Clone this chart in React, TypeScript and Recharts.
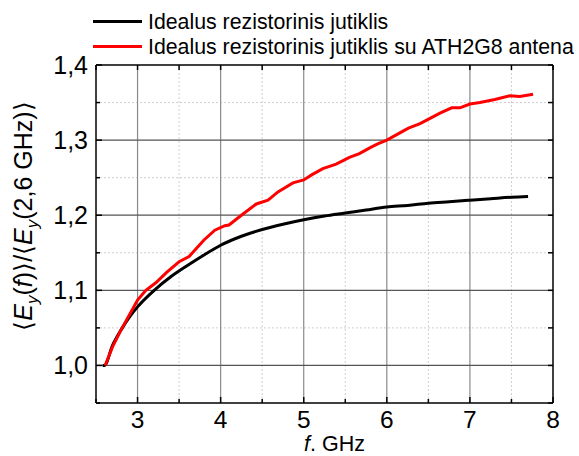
import React from 'react';
import { LineChart, Line, XAxis, YAxis, ReferenceLine, Label } from 'recharts';

const idealF = [2.58, 2.6, 2.7, 2.8, 2.9, 3.0, 3.2, 3.4, 3.6, 3.8, 4.0, 4.25, 4.5, 4.75, 5.0, 5.25, 5.5, 5.75, 6.0, 6.25, 6.5, 6.75, 7.0, 7.25, 7.5, 7.7];
const idealE = [1.0, 1.0, 1.027, 1.047, 1.064, 1.078, 1.1, 1.118, 1.133, 1.147, 1.16, 1.172, 1.181, 1.188, 1.194, 1.199, 1.203, 1.207, 1.211, 1.213, 1.216, 1.218, 1.22, 1.222, 1.224, 1.225];

const antF = [2.61, 2.7, 2.8, 3.0, 3.1, 3.22, 3.35, 3.5, 3.62, 3.8, 3.93, 4.05, 4.1, 4.25, 4.43, 4.57, 4.69, 4.87, 5.0, 5.1, 5.23, 5.39, 5.55, 5.67, 5.8, 5.89, 6.0, 6.13, 6.26, 6.4, 6.52, 6.64, 6.78, 6.88, 7.0, 7.12, 7.3, 7.48, 7.6, 7.76];
const antE = [1.0, 1.025, 1.047, 1.087, 1.1, 1.11, 1.124, 1.138, 1.145, 1.167, 1.18, 1.186, 1.187, 1.2, 1.215, 1.22, 1.231, 1.243, 1.247, 1.254, 1.262, 1.268, 1.277, 1.282, 1.29, 1.295, 1.3, 1.308, 1.316, 1.322, 1.329, 1.336, 1.343, 1.343, 1.348, 1.35, 1.354, 1.359, 1.358, 1.361];

const seriesNames = ['Idealus rezistorinis jutiklis', 'Idealus rezistorinis jutiklis su ATH2G8 antena'];
const seriesColors = ['#000000', '#ff0000'];

const xTicks = [2.5, 3, 3.5, 4, 4.5, 5, 5.5, 6, 6.5, 7, 7.5, 8];
const xMajor = [3, 4, 5, 6, 7];
const xMinor = [3.5, 4.5, 5.5, 6.5, 7.5];
const yTicks = [0.95, 1.0, 1.05, 1.1, 1.15, 1.2, 1.25, 1.3, 1.35, 1.4];
const yMajor = [1.0, 1.1, 1.2, 1.3];
const yMinor = [1.05, 1.15, 1.25, 1.35];

const idealData = idealF.map((f, i) => ({ f, e: idealE[i] }));
const antData = antF.map((f, i) => ({ f, e: antE[i] }));

const W = 579;
const H = 456;
const X_H = 30;
const M = { top: 65, right: 26, bottom: 53 - X_H, left: 0 };
const Y_W = 96;
const PLOT_H = H - M.top - M.bottom - X_H;
const PLOT_W = W - Y_W - M.right;
const FONT = '"Liberation Sans", Arial, sans-serif';

const isMajor = (v: number) => Math.abs(v * 10 - Math.round(v * 10)) < 1e-6;

function XTick(props: any) {
  const { x, y, payload } = props;
  const v = payload.value as number;
  const whole = Math.abs(v - Math.round(v)) < 1e-6;
  return (
    <g>
      <line x1={x} x2={x} y1={y} y2={y - (whole ? 6 : 4)} stroke="#000" strokeWidth={1.5} />
      <line x1={x} x2={x} y1={y - PLOT_H} y2={y - PLOT_H + 5} stroke="#000" strokeWidth={1.5} />
      {whole && v > 2.5 && (
        <text x={x} y={y + 24.5} textAnchor="middle" fontSize={24.5} fontFamily={FONT} fill="#000">
          {v}
        </text>
      )}
    </g>
  );
}

function YTick(props: any) {
  const { x, y, payload } = props;
  const v = payload.value as number;
  const major = isMajor(v);
  return (
    <g>
      <line x1={x} x2={x + (major ? 6 : 4)} y1={y} y2={y} stroke="#000" strokeWidth={1.5} />
      <line x1={x + PLOT_W} x2={x + PLOT_W - 5} y1={y} y2={y} stroke="#000" strokeWidth={1.5} />
      {major && (
        <text x={x - 8} y={y + 9} textAnchor="end" fontSize={25} fontFamily={FONT} fill="#000">
          {v.toFixed(1).replace('.', ',')}
        </text>
      )}
    </g>
  );
}

function YTitle(props: any) {
  const { viewBox } = props;
  const cx = 32;
  const cy = viewBox.y + viewBox.height / 2 - 18;
  return (
    <text
      x={cx}
      y={cy}
      transform={`rotate(-90 ${cx} ${cy})`}
      textAnchor="middle"
      fontSize={25}
      fontFamily={FONT}
      fill="#000"
    >
      <tspan>⟨</tspan>
      <tspan fontStyle="italic">E</tspan>
      <tspan fontSize={17} fontStyle="italic" dy={6}>y</tspan>
      <tspan dy={-6}>(</tspan>
      <tspan fontStyle="italic">f</tspan>
      <tspan>)⟩/⟨</tspan>
      <tspan fontStyle="italic">E</tspan>
      <tspan fontSize={17} fontStyle="italic" dy={6}>y</tspan>
      <tspan dy={-6}>(2,6 GHz)⟩</tspan>
    </text>
  );
}

function XTitle(props: any) {
  const { viewBox } = props;
  const cx = viewBox.x + viewBox.width / 2 + 10;
  return (
    <text x={cx} y={451} textAnchor="middle" fontSize={21.5} fontFamily={FONT} fill="#000">
      <tspan fontStyle="italic">f</tspan>
      <tspan>. GHz</tspan>
    </text>
  );
}

function LegendOverlay() {
  return (
    <svg width={W} height={60} style={{ position: 'absolute', left: 0, top: 0 }}>
      {seriesNames.map((name, i) => (
        <g key={name}>
          <line x1={93} x2={142} y1={21.5 + i * 25} y2={21.5 + i * 25} stroke={seriesColors[i]} strokeWidth={3} />
          <text x={148} y={28.5 + i * 25} fontSize={21.3} fontFamily={FONT} fill="#000">
            {name}
          </text>
        </g>
      ))}
    </svg>
  );
}

export default function App() {
  return (
    <div style={{ position: 'absolute', left: 0, top: 0, width: W, height: H, background: '#fff' }}>
      <LineChart width={W} height={H} margin={M}>
        <XAxis
          type="number"
          dataKey="f"
          domain={[2.5, 8]}
          ticks={xTicks}
          interval={0}
          tickSize={0}
          tickMargin={0}
          height={X_H}
          tick={<XTick />}
          axisLine={{ stroke: '#000', strokeWidth: 1.5 }}
          allowDataOverflow
        >
          <Label content={<XTitle />} />
        </XAxis>
        <YAxis
          type="number"
          domain={[0.95, 1.4]}
          ticks={yTicks}
          interval={0}
          tickSize={0}
          tickMargin={0}
          width={Y_W}
          tick={<YTick />}
          axisLine={{ stroke: '#000', strokeWidth: 1.5 }}
          allowDataOverflow
        >
          <Label content={<YTitle />} />
        </YAxis>
        {xMinor.map((v) => (
          <ReferenceLine key={'xm' + v} x={v} stroke="#cfcfcf" strokeDasharray="2 2" ifOverflow="visible" />
        ))}
        {yMinor.map((v) => (
          <ReferenceLine key={'ym' + v} y={v} stroke="#cfcfcf" strokeDasharray="2 2" ifOverflow="visible" />
        ))}
        {xMajor.map((v) => (
          <ReferenceLine key={'xM' + v} x={v} stroke="#8a8a8a" strokeWidth={1.2} ifOverflow="visible" />
        ))}
        {yMajor.map((v) => (
          <ReferenceLine key={'yM' + v} y={v} stroke="#555" strokeWidth={1.2} ifOverflow="visible" />
        ))}
        <ReferenceLine x={8} stroke="#000" strokeWidth={1.5} ifOverflow="visible" />
        <ReferenceLine y={1.4} stroke="#000" strokeWidth={1.5} ifOverflow="visible" />
        <Line
          data={idealData}
          dataKey="e"
          name={seriesNames[0]}
          stroke={seriesColors[0]}
          strokeWidth={3}
          dot={false}
          type="monotone"
          isAnimationActive={false}
        />
        <Line
          data={antData}
          dataKey="e"
          name={seriesNames[1]}
          stroke={seriesColors[1]}
          strokeWidth={3}
          dot={false}
          type="linear"
          isAnimationActive={false}
        />
      </LineChart>
      <LegendOverlay />
    </div>
  );
}
